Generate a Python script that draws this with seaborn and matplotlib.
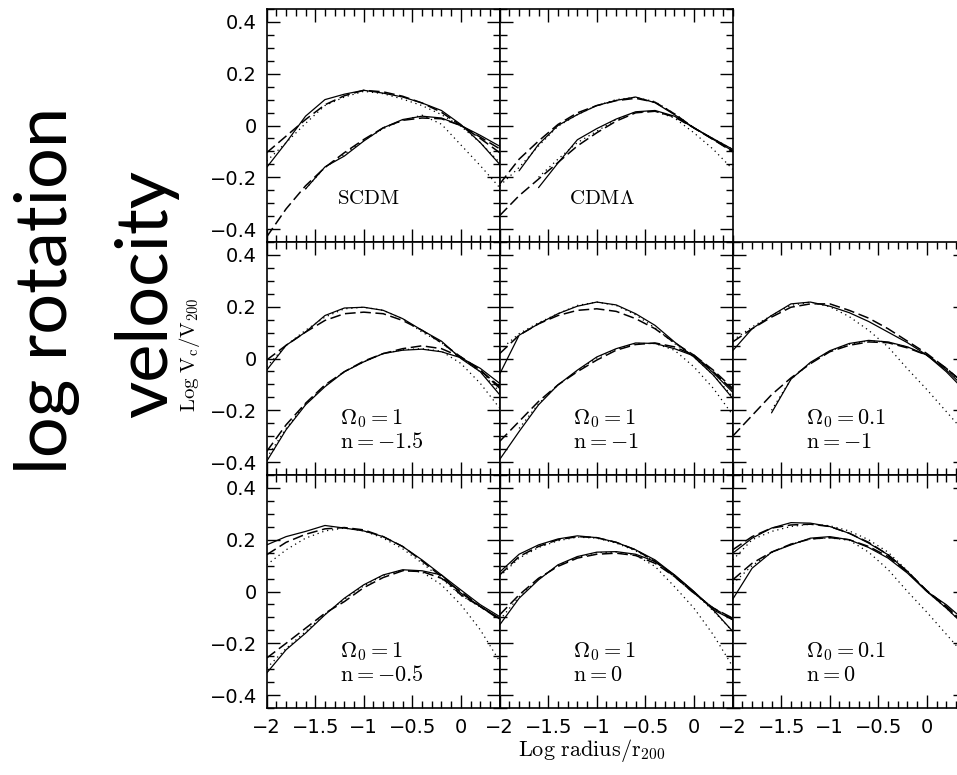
import numpy as np
import matplotlib
matplotlib.use("Agg")
import matplotlib.pyplot as plt
import seaborn as sns
from matplotlib.ticker import MultipleLocator, FuncFormatter

N = np.nan
# common radius grid (log r / r200)
x_grid = [-2.0, -1.8, -1.6, -1.4, -1.2, -1.0, -0.8, -0.6, -0.4, -0.2, 0.0, 0.2, 0.4]

# ---- SCDM ----
scdm_hi_solid = [-0.162, -0.066, 0.036, 0.100, 0.121, 0.136, 0.125, 0.110, 0.087, 0.058, 0.004, -0.066, -0.150]
scdm_hi_dash = [-0.105, -0.041, 0.023, 0.080, 0.115, 0.136, 0.130, 0.113, 0.087, 0.051, 0.000, -0.050, -0.105]
scdm_hi_dot = [-0.137, -0.066, 0.008, 0.077, 0.110, 0.132, 0.123, 0.102, 0.077, 0.042, -0.003, -0.066, -0.143]
scdm_lo_solid = [N, N, -0.245, -0.160, -0.118, -0.060, -0.009, 0.023, 0.036, 0.029, 0.000, -0.038, -0.080]
scdm_lo_dash = [-0.430, -0.322, -0.233, -0.162, -0.105, -0.054, -0.009, 0.020, 0.029, 0.026, 0.000, -0.045, -0.090]
scdm_lo_dot = [N, N, -0.245, -0.162, -0.111, -0.058, -0.012, 0.020, 0.040, 0.005, -0.075, -0.155, -0.240]

# ---- CDM Lambda ----
cdml_hi_solid = [N, -0.175, -0.073, 0.000, 0.042, 0.077, 0.097, 0.110, 0.088, 0.042, -0.009, -0.051, -0.092]
cdml_hi_dash = [-0.226, -0.130, -0.060, 0.004, 0.049, 0.077, 0.096, 0.105, 0.090, 0.045, -0.009, -0.054, -0.098]
cdml_hi_dot = [-0.233, -0.162, -0.079, -0.003, 0.042, 0.077, 0.100, 0.109, 0.092, 0.046, -0.009, -0.051, -0.092]
cdml_lo_solid = [N, N, -0.240, -0.145, -0.055, -0.012, 0.025, 0.053, 0.058, 0.036, -0.009, -0.054, -0.098]
cdml_lo_dash = [-0.348, -0.271, -0.207, -0.143, -0.079, -0.028, 0.017, 0.049, 0.055, 0.033, -0.009, -0.054, -0.102]
cdml_lo_dot = [N, N, -0.200, -0.130, -0.066, -0.022, 0.023, 0.052, 0.055, 0.029, -0.028, -0.092, -0.169]

# ---- Omega0=1, n=-1.5 ----
o1n15_hi_solid = [-0.045, 0.051, 0.102, 0.166, 0.195, 0.198, 0.186, 0.154, 0.109, 0.067, 0.000, -0.051, -0.140]
o1n15_hi_dash = [-0.006, 0.051, 0.102, 0.147, 0.173, 0.179, 0.173, 0.147, 0.109, 0.061, 0.006, -0.045, -0.109]
o1n15_hi_dot = [-0.032, 0.051, 0.109, 0.160, 0.192, 0.198, 0.186, 0.154, 0.102, 0.061, 0.003, -0.051, -0.128]
o1n15_lo_solid = [-0.397, -0.275, -0.179, -0.109, -0.051, -0.013, 0.019, 0.032, 0.036, 0.026, 0.003, -0.038, -0.096]
o1n15_lo_dash = [-0.359, -0.256, -0.173, -0.102, -0.051, -0.010, 0.019, 0.038, 0.049, 0.038, 0.006, -0.045, -0.115]
o1n15_lo_dot = [-0.384, -0.270, -0.176, -0.105, -0.051, -0.013, 0.019, 0.034, 0.038, 0.028, -0.019, -0.096, -0.192]

# ---- Omega0=1, n=-1 ----
o1n1_hi_solid = [-0.060, 0.090, 0.134, 0.173, 0.202, 0.218, 0.207, 0.173, 0.128, 0.064, 0.006, -0.064, -0.154]
o1n1_hi_dash = [0.019, 0.090, 0.134, 0.166, 0.186, 0.192, 0.182, 0.154, 0.115, 0.061, 0.013, -0.051, -0.122]
o1n1_hi_dot = [0.032, 0.096, 0.138, 0.173, 0.205, 0.218, 0.205, 0.169, 0.118, 0.058, 0.006, -0.064, -0.147]
o1n1_lo_solid = [-0.390, -0.282, -0.179, -0.102, -0.045, 0.006, 0.038, 0.060, 0.058, 0.038, 0.010, -0.055, -0.130]
o1n1_lo_dash = [-0.320, -0.243, -0.166, -0.102, -0.051, -0.006, 0.032, 0.054, 0.060, 0.045, 0.013, -0.045, -0.115]
o1n1_lo_dot = [N, -0.270, -0.175, -0.102, -0.048, 0.002, 0.036, 0.058, 0.058, 0.032, -0.032, -0.115, -0.218]

# ---- Omega0=0.1, n=-1 ----
o01n1_hi_solid = [0.030, 0.115, 0.166, 0.211, 0.218, 0.202, 0.177, 0.143, 0.102, 0.061, 0.013, -0.051, -0.128]
o01n1_hi_dash = [0.064, 0.115, 0.160, 0.198, 0.211, 0.211, 0.186, 0.156, 0.115, 0.067, 0.019, -0.038, -0.102]
o01n1_hi_dot = [0.070, 0.122, 0.166, 0.205, 0.218, 0.200, 0.162, 0.109, 0.045, -0.040, -0.120, -0.205, -0.290]
o01n1_lo_solid = [N, N, -0.210, -0.080, -0.015, 0.030, 0.058, 0.070, 0.064, 0.045, 0.013, -0.045, -0.115]
o01n1_lo_dash = [-0.300, -0.220, -0.140, -0.075, -0.020, 0.026, 0.051, 0.064, 0.061, 0.041, 0.013, -0.038, -0.102]
o01n1_lo_dot = [N, N, -0.200, -0.080, -0.018, 0.029, 0.055, 0.068, 0.063, 0.044, 0.012, -0.040, -0.105]

# ---- Omega0=1, n=-0.5 ----
o1n05_hi_solid = [0.180, 0.212, 0.232, 0.255, 0.245, 0.234, 0.212, 0.174, 0.122, 0.064, -0.006, -0.058, -0.103]
o1n05_hi_dash = [0.142, 0.190, 0.221, 0.242, 0.247, 0.238, 0.212, 0.174, 0.118, 0.058, -0.013, -0.058, -0.106]
o1n05_hi_dot = [0.103, 0.161, 0.206, 0.234, 0.245, 0.234, 0.206, 0.165, 0.110, 0.050, -0.015, -0.060, -0.105]
o1n05_lo_solid = [-0.315, -0.225, -0.161, -0.090, -0.026, 0.026, 0.064, 0.084, 0.080, 0.064, 0.006, -0.051, -0.097]
o1n05_lo_dash = [-0.257, -0.200, -0.142, -0.084, -0.039, 0.015, 0.054, 0.080, 0.077, 0.051, 0.000, -0.058, -0.109]
o1n05_lo_dot = [-0.296, -0.220, -0.155, -0.088, -0.030, 0.022, 0.062, 0.082, 0.075, 0.026, -0.051, -0.148, -0.270]

# ---- Omega0=1, n=0 ----
o1n0_hi_solid = [0.075, 0.144, 0.180, 0.203, 0.215, 0.208, 0.190, 0.161, 0.122, 0.064, 0.000, -0.071, -0.154]
o1n0_hi_dash = [0.064, 0.135, 0.174, 0.200, 0.212, 0.208, 0.190, 0.161, 0.116, 0.058, -0.006, -0.064, -0.109]
o1n0_hi_dot = [0.058, 0.129, 0.170, 0.196, 0.210, 0.206, 0.187, 0.157, 0.116, 0.062, -0.003, -0.075, -0.154]
o1n0_lo_solid = [-0.129, -0.026, 0.045, 0.103, 0.135, 0.152, 0.154, 0.144, 0.116, 0.064, 0.000, -0.071, -0.109]
o1n0_lo_dash = [-0.090, -0.013, 0.051, 0.097, 0.129, 0.144, 0.148, 0.139, 0.109, 0.058, -0.006, -0.064, -0.103]
o1n0_lo_dot = [-0.110, -0.020, 0.048, 0.100, 0.132, 0.150, 0.152, 0.140, 0.097, 0.019, -0.064, -0.167, -0.290]

# ---- Omega0=0.1, n=0 ----
o01n0_hi_solid = [0.148, 0.206, 0.245, 0.266, 0.264, 0.251, 0.225, 0.187, 0.142, 0.077, 0.000, -0.051, -0.116]
o01n0_hi_dash = [0.161, 0.212, 0.245, 0.257, 0.260, 0.251, 0.225, 0.190, 0.142, 0.077, 0.003, -0.058, -0.129]
o01n0_hi_dot = [0.122, 0.200, 0.232, 0.251, 0.260, 0.254, 0.234, 0.200, 0.152, 0.080, 0.000, -0.064, -0.135]
o01n0_lo_solid = [-0.030, 0.090, 0.152, 0.180, 0.206, 0.212, 0.200, 0.170, 0.129, 0.071, 0.000, -0.064, -0.135]
o01n0_lo_dash = [0.045, 0.109, 0.152, 0.183, 0.203, 0.208, 0.200, 0.174, 0.135, 0.075, 0.003, -0.058, -0.129]
o01n0_lo_dot = [0.030, 0.100, 0.150, 0.182, 0.203, 0.207, 0.198, 0.152, 0.085, 0.000, -0.080, -0.165, -0.250]

# panel labels
labels_scdm = [r"$\mathrm{SCDM}$"]
labels_cdml = [r"$\mathrm{CDM}\Lambda$"]
labels_o1n15 = [r"$\Omega_0=1$", r"$\mathrm{n}={-}1.5$"]
labels_o1n1 = [r"$\Omega_0=1$", r"$\mathrm{n}={-}1$"]
labels_o01n1 = [r"$\Omega_0=0.1$", r"$\mathrm{n}={-}1$"]
labels_o1n05 = [r"$\Omega_0=1$", r"$\mathrm{n}={-}0.5$"]
labels_o1n0 = [r"$\Omega_0=1$", r"$\mathrm{n}=0$"]
labels_o01n0 = [r"$\Omega_0=0.1$", r"$\mathrm{n}=0$"]

sns.set_style("ticks", {"axes.edgecolor": "black", "xtick.color": "black",
                        "ytick.color": "black", "xtick.direction": "in",
                        "ytick.direction": "in", "axes.facecolor": "white",
                        "text.color": "black", "axes.labelcolor": "black"})
plt.rcParams["font.family"] = ["DejaVu Sans"]
plt.rcParams["mathtext.fontset"] = "cm"
plt.rcParams["text.color"] = "black"

W, H = 957, 775
fig = plt.figure(figsize=(W / 100, H / 100), dpi=100)
fig.patch.set_facecolor("white")

col_left = [266.7, 499.7, 732.7]
row_top = [9.0, 242.0, 475.0]
SZ = 233.0

panels = [
    (0, 0, labels_scdm, [scdm_hi_solid, scdm_hi_dash, scdm_hi_dot, scdm_lo_solid, scdm_lo_dash, scdm_lo_dot]),
    (0, 1, labels_cdml, [cdml_hi_solid, cdml_hi_dash, cdml_hi_dot, cdml_lo_solid, cdml_lo_dash, cdml_lo_dot]),
    (1, 0, labels_o1n15, [o1n15_hi_solid, o1n15_hi_dash, o1n15_hi_dot, o1n15_lo_solid, o1n15_lo_dash, o1n15_lo_dot]),
    (1, 1, labels_o1n1, [o1n1_hi_solid, o1n1_hi_dash, o1n1_hi_dot, o1n1_lo_solid, o1n1_lo_dash, o1n1_lo_dot]),
    (1, 2, labels_o01n1, [o01n1_hi_solid, o01n1_hi_dash, o01n1_hi_dot, o01n1_lo_solid, o01n1_lo_dash, o01n1_lo_dot]),
    (2, 0, labels_o1n05, [o1n05_hi_solid, o1n05_hi_dash, o1n05_hi_dot, o1n05_lo_solid, o1n05_lo_dash, o1n05_lo_dot]),
    (2, 1, labels_o1n0, [o1n0_hi_solid, o1n0_hi_dash, o1n0_hi_dot, o1n0_lo_solid, o1n0_lo_dash, o1n0_lo_dot]),
    (2, 2, labels_o01n0, [o01n0_hi_solid, o01n0_hi_dash, o01n0_hi_dot, o01n0_lo_solid, o01n0_lo_dash, o01n0_lo_dot]),
]

styles = [
    dict(linestyle="-", linewidth=0.9),
    dict(linestyle=(0, (7, 3)), linewidth=1.1),
    dict(linestyle=(0, (1, 3)), linewidth=0.9),
] * 2


def fmt(v, pos):
    s = f"{v:.2f}".rstrip("0").rstrip(".")
    if s in ("-0", ""):
        s = "0"
    return s.replace("-", "\u2212")


for row, col, labels, curves in panels:
    left = col_left[col] / W
    bottom = 1 - (row_top[row] + SZ) / H
    ax = fig.add_axes([left, bottom, SZ / W, SZ / H])
    for vals, st in zip(curves, styles):
        sns.lineplot(x=x_grid, y=vals, ax=ax, color="black", sort=False,
                     estimator=None, **st)
    ax.set_xlim(-2.0, 0.4)
    ax.set_ylim(-0.45, 0.45)
    ax.xaxis.set_major_locator(MultipleLocator(0.5))
    ax.xaxis.set_minor_locator(MultipleLocator(0.1))
    ax.yaxis.set_major_locator(MultipleLocator(0.2))
    ax.yaxis.set_minor_locator(MultipleLocator(0.05))
    ax.xaxis.set_major_formatter(FuncFormatter(fmt))
    ax.yaxis.set_major_formatter(FuncFormatter(fmt))
    ax.tick_params(which="both", direction="in", top=True, right=True,
                   bottom=True, left=True, color="black", width=1.0,
                   labelcolor="black")
    ax.tick_params(which="major", length=9.5, labelsize=14, pad=7)
    ax.tick_params(which="minor", length=5)
    ax.tick_params(labelleft=(col == 0), labelbottom=(row == 2))
    for sp in ax.spines.values():
        sp.set_linewidth(1.2)
        sp.set_color("black")
    ax.set_xlabel("")
    ax.set_ylabel("")
    if row == 0:
        ax.text(-0.95, -0.28, labels[0], ha="center", va="center",
                fontsize=15, color="black")
    else:
        ax.text(-1.25, -0.252, labels[0], ha="left", va="baseline",
                fontsize=16, color="black")
        ax.text(-1.25, -0.346, labels[1], ha="left", va="baseline",
                fontsize=16, color="black")

# axis titles
fig.text(190 / W, 1 - 355 / H, r"$\mathrm{Log\ V_c/V_{200}}$", rotation=90,
         ha="center", va="center", fontsize=15, color="black")
fig.text(592 / W, 1 - 750 / H, r"$\mathrm{Log\ radius/r_{200}}$",
         ha="center", va="center", fontsize=16, color="black")

# big annotation
fig.text(67 / W, 1 - 290 / H, "log rotation", rotation=90, rotation_mode="anchor",
         ha="center", va="baseline", fontsize=52, color="black",
         family=["Lato", "DejaVu Sans"])
fig.text(167 / W, 1 - 294 / H, "velocity", rotation=90, rotation_mode="anchor",
         ha="center", va="baseline", fontsize=52, color="black",
         family=["Lato", "DejaVu Sans"])

fig.savefig("out.png", dpi=100, facecolor="white")
